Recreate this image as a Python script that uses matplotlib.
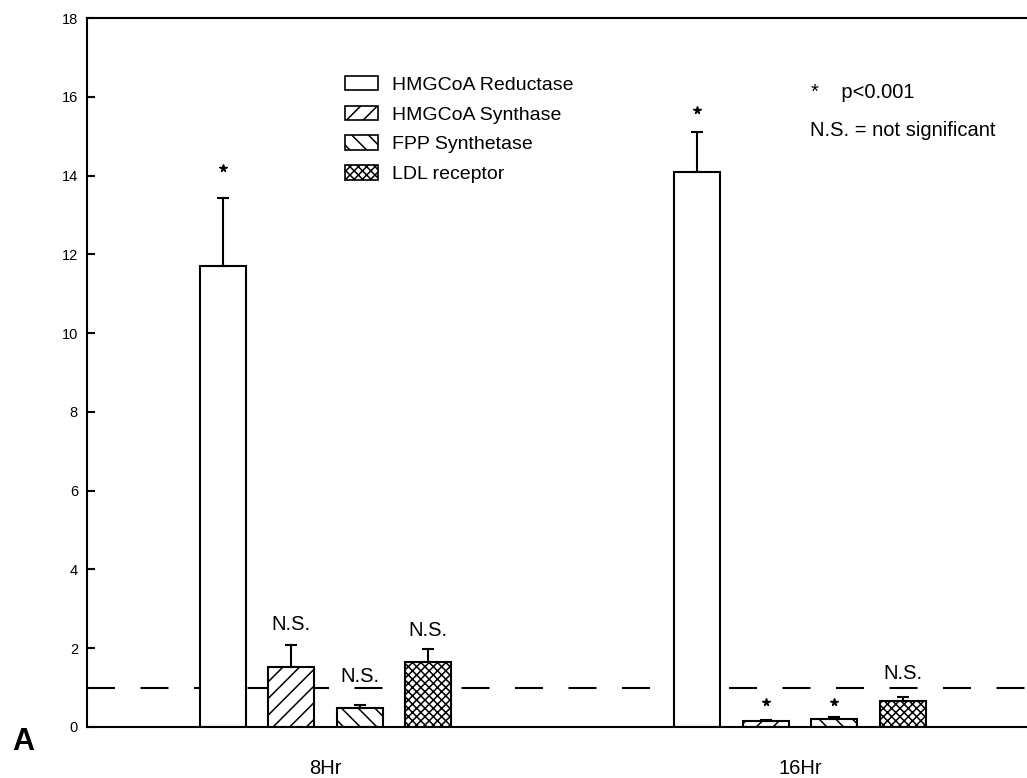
import numpy as np
import matplotlib
matplotlib.use("Agg")
import matplotlib.pyplot as plt
from matplotlib.patches import Patch

plt.rcParams['font.family'] = ['Liberation Sans', 'DejaVu Sans']
plt.rcParams['hatch.linewidth'] = 1.1

# data
groups = ['8Hr', '16Hr']
series = ['HMGCoA Reductase', 'HMGCoA Synthase', 'FPP Synthetase', 'LDL receptor']
hatches = ['', '//', '\\\\', 'xxxx']
values = {
    '8Hr':  [11.7, 1.52, 0.48, 1.65],
    '16Hr': [14.1, 0.15, 0.2, 0.65],
}
errors = {
    '8Hr':  [1.72, 0.55, 0.08, 0.32],
    '16Hr': [1.0, 0.04, 0.05, 0.12],
}
sig = {
    '8Hr':  ['*', 'N.S.', 'N.S.', 'N.S.'],
    '16Hr': ['*', '*', '*', 'N.S.'],
}
sig_y = {
    '8Hr':  [14.2, 2.59, 1.27, 2.46],
    '16Hr': [15.66, 0.63, 0.63, 1.37],
}
baseline = 1.0

fig = plt.figure(figsize=(10.27, 7.78), dpi=100)
ax = fig.add_axes([87 / 1027, 51 / 778, 940 / 1027, 709 / 778])

step = 68.5 / 474.5
width = 46 / 474.5
offsets = (np.arange(len(series)) - 1.5) * step

# dashed reference line, drawn behind the bars
ax.axhline(baseline, color='black', lw=1.5, linestyle=(0, (13.44, 12.24)), zorder=1)

for gi, g in enumerate(groups):
    xs = gi + offsets
    for si in range(len(series)):
        ax.bar(xs[si], values[g][si], width=width, color='white', edgecolor='black',
               hatch=hatches[si], linewidth=1.5, zorder=2)
        ax.errorbar(xs[si], values[g][si], yerr=[[0], [errors[g][si]]], fmt='none',
                    ecolor='black', elinewidth=1.5, capsize=4, capthick=1.5, zorder=3)
        lab = sig[g][si]
        if lab == '*':
            ax.plot(xs[si], sig_y[g][si], marker='*', color='black', markersize=5.5, zorder=4)
        else:
            ax.text(xs[si], sig_y[g][si], lab, ha='center', va='center', fontsize=14.5)

ax.set_xlim((87 - 325.5) / 474.5, (1027 - 325.5) / 474.5)
ax.set_ylim(0, 18)
ax.set_yticks(np.arange(0, 19, 2))
ax.set_xticks(range(len(groups)))
ax.set_xticklabels(groups, fontsize=14.5)
ax.tick_params(axis='x', length=0, pad=23)
ax.tick_params(axis='y', direction='in', length=6, width=1.5, pad=6.5, labelsize=10.5)
ax.spines['right'].set_visible(False)
for s in ['left', 'top', 'bottom']:
    ax.spines[s].set_linewidth(1.5)

handles = [Patch(facecolor='white', edgecolor='black', hatch=h, linewidth=1.2) for h in hatches]
ax.legend(handles, series, loc='upper left', bbox_to_anchor=(345 / 1027, 1 - 76 / 778),
          bbox_transform=fig.transFigure, frameon=False, fontsize=14, borderpad=0,
          borderaxespad=0, handlelength=1.7, handleheight=0.77, handletextpad=0.72,
          labelspacing=0.6)

fig.text(811 / 1027, 1 - 93 / 778, '*    p<0.001', fontsize=14.5, ha='left', va='center')
fig.text(810 / 1027, 1 - 130 / 778, 'N.S. = not significant', fontsize=14.5, ha='left', va='center')
fig.text(23 / 1027, 1 - 742 / 778, 'A', fontsize=22, fontweight='bold', ha='center', va='center')

fig.savefig('out.png', dpi=100)
